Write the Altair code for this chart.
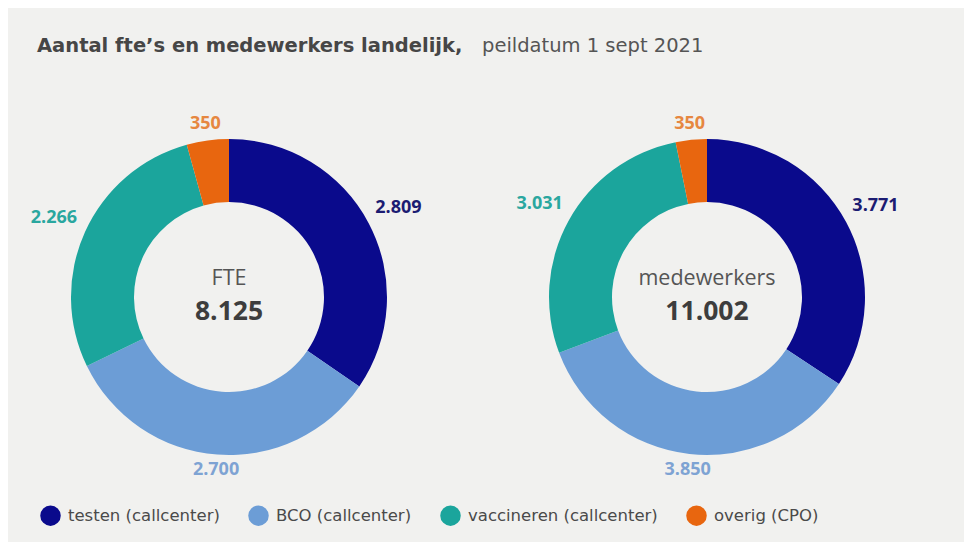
import altair as alt
import pandas as pd

# ---- data ----
categories = ["testen (callcenter)", "BCO (callcenter)", "vaccineren (callcenter)", "overig (CPO)"]
fte_values = [2809, 2700, 2266, 350]
medewerker_values = [3771, 3850, 3031, 350]
panels = ["FTE", "medewerkers"]
title_bold = "Aantal fte\u2019s en medewerkers landelijk,"
title_normal = "peildatum 1 sept 2021"

slice_colors = ["#0a0a8c", "#6c9dd6", "#1ba59c", "#e8660f"]
label_colors = ["#1c1c72", "#7ea3d3", "#2aa79f", "#e68740"]

rows = []
for panel, vals in zip(panels, [fte_values, medewerker_values]):
    for i, (c, v) in enumerate(zip(categories, vals)):
        rows.append({"panel": panel, "category": c, "value": v, "order": i})
df = pd.DataFrame(rows)

FONT = "Open Sans"
CX = [221, 699]

xenc = alt.X("panel:N", scale=alt.Scale(type="point", domain=panels, range=CX, padding=0), axis=None)

base = alt.Chart(df).transform_joinaggregate(
    total="sum(value)", groupby=["panel"]
).transform_window(
    cum="sum(value)", sort=[alt.SortField("order")], groupby=["panel"], frame=[None, 0]
).transform_calculate(
    start="(datum.cum - datum.value) / datum.total",
    end="datum.cum / datum.total",
    mid="(datum.cum - datum.value / 2) / datum.total",
    side="abs(sin(2 * PI * (datum.cum - datum.value / 2) / datum.total))",
    label="replace(format(datum.value, ','), ',', '.')",
)

theta_scale = alt.Scale(domain=[0, 1])

arcs = base.mark_arc(radius=158, radius2=95).encode(
    x=xenc,
    y=alt.value(289),
    theta=alt.Theta("start:Q", scale=theta_scale),
    theta2="end:Q",
    color=alt.Color(
        "category:N",
        scale=alt.Scale(domain=categories, range=slice_colors),
        legend=alt.Legend(
            title=None,
            orient="none",
            legendX=32,
            legendY=497,
            direction="horizontal",
            symbolType="circle",
            symbolSize=420,
            symbolStrokeWidth=0,
            labelFont="DejaVu Sans",
            labelFontSize=16.5,
            labelColor="#4a4a4a",
            labelOffset=7,
            labelLimit=400,
            columnPadding=28,
        ),
        sort=categories,
    ),
)

labels = base.mark_text(font=FONT, fontSize=18, fontWeight="bold", align="center", baseline="middle").encode(
    x=xenc,
    y=alt.value(289),
    theta=alt.Theta("mid:Q", scale=theta_scale),
    radius=alt.Radius("side:Q", scale=alt.Scale(type="linear", domain=[0, 1], range=[172, 194], zero=False)),
    text="label:N",
    color=alt.Color("category:N", scale=alt.Scale(domain=categories, range=label_colors), legend=None),
)

totals = alt.Chart(df).transform_aggregate(
    total="sum(value)", groupby=["panel"]
).transform_calculate(
    tlabel="replace(format(datum.total, ','), ',', '.')"
)

center_name = totals.mark_text(font=FONT, fontSize=21.5, color="#555555", align="center", baseline="middle").encode(
    x=xenc, y=alt.value(271), text="panel:N"
)
center_total = totals.mark_text(font=FONT, fontSize=26.5, fontWeight="bold", color="#3d3d3d", align="center", baseline="middle").encode(
    x=xenc, y=alt.value(304), text="tlabel:N"
)

t1 = alt.Chart(pd.DataFrame({"t": [title_bold]})).mark_text(
    font="DejaVu Sans", fontSize=19.5, fontWeight="bold", color="#464646", align="left", baseline="middle"
).encode(x=alt.value(29), y=alt.value(38), text="t:N")
t2 = alt.Chart(pd.DataFrame({"t": [title_normal]})).mark_text(
    font="DejaVu Sans", fontSize=19.5, color="#555555", align="left", baseline="middle"
).encode(x=alt.value(474), y=alt.value(38), text="t:N")

chart = alt.layer(arcs, labels, center_name, center_total, t1, t2).resolve_scale(
    color="independent"
).properties(
    width=956, height=534, autosize=alt.AutoSizeParams(type="none"), padding=0, background="#f1f1ef"
).configure_view(stroke=None)

chart.save("out.html", embed_options={"renderer": "svg", "actions": False})
